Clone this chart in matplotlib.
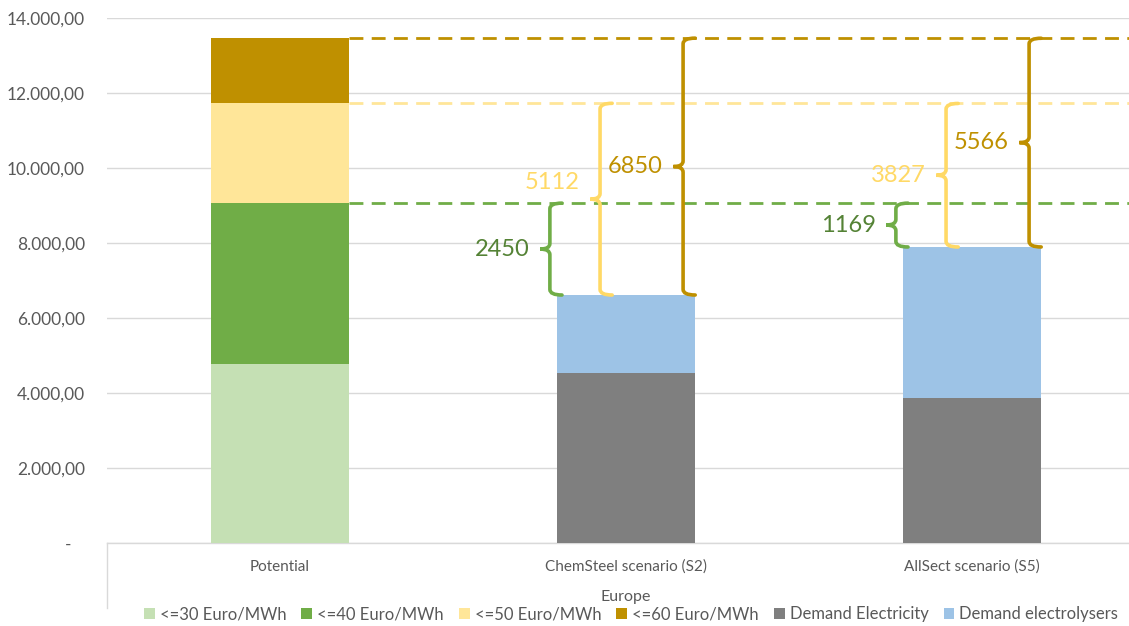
import numpy as np
import matplotlib
matplotlib.use("Agg")
import matplotlib.pyplot as plt
from matplotlib.path import Path
from matplotlib.patches import PathPatch
from matplotlib.ticker import FuncFormatter
import matplotlib.transforms as mtransforms

plt.rcParams["font.family"] = ["Lato", "DejaVu Sans"]

# ── data ────────────────────────────────────────────────────────────────────
categories = ["Potential", "ChemSteel scenario (S2)", "AllSect scenario (S5)"]
group_label = "Europe"

series_names = ["<=30 Euro/MWh", "<=40 Euro/MWh", "<=50 Euro/MWh", "<=60 Euro/MWh",
                "Demand Electricity", "Demand electrolysers"]
le30 = [4773, 0, 0]
le40 = [4290, 0, 0]
le50 = [2662, 0, 0]
le60 = [1738, 0, 0]
demand_electricity = [0, 4533, 3867]
demand_electrolysers = [0, 2080, 4027]

# gap between each scenario's demand and the potential up to a price level
gaps_s2 = [2450, 5112, 6850]
gaps_s5 = [1169, 3827, 5566]

# ── styling ─────────────────────────────────────────────────────────────────
C_LE30 = "#C5E0B4"
C_LE40 = "#70AD47"
C_LE50 = "#FFE699"
C_LE60 = "#BF9000"
C_ELEC = "#7F7F7F"
C_ELY = "#9DC3E6"
C_TEXT = "#595959"
C_GRID = "#D9D9D9"

dash_colors = [C_LE40, "#FFE699", C_LE60]
brace_colors = ["#70AD47", "#FFD966", "#BF9000"]
label_colors = ["#548235", "#FFD966", "#BF9000"]
brace_offsets = [-0.22, -0.075, 0.165]   # brace spine relative to bar centre
label_dy = [[0, 450, 0], [0, 0, 0]]       # vertical nudges for the gap labels

bar_w = 0.4
x = np.arange(len(categories))

fig = plt.figure(figsize=(11.29, 6.26), dpi=100)
ax = fig.add_axes([107 / 1129, 1 - 543 / 626, 1038 / 1129, 525 / 626])

stack = [le30, le40, le50, le60, demand_electricity, demand_electrolysers]
colors = [C_LE30, C_LE40, C_LE50, C_LE60, C_ELEC, C_ELY]
bottom = np.zeros(len(categories))
handles = []
for vals, col, name in zip(stack, colors, series_names):
    vals = np.array(vals, dtype=float)
    b = ax.bar(x, vals, bar_w, bottom=bottom, color=col, label=name, zorder=3)
    handles.append(b)
    bottom += vals

ax.set_xlim(-0.5, len(categories) - 0.5)
ax.set_ylim(0, 14000)
ax.set_yticks(np.arange(0, 14001, 2000))


def euro_fmt(v, pos):
    if v == 0:
        return "-   "
    s = f"{v:,.2f}"
    return s.replace(",", "X").replace(".", ",").replace("X", ".")


ax.yaxis.set_major_formatter(FuncFormatter(euro_fmt))
ax.yaxis.grid(True, color=C_GRID, linewidth=1.0, zorder=0)
ax.set_axisbelow(True)
for side in ["top", "right", "left"]:
    ax.spines[side].set_visible(False)
ax.spines["bottom"].set_color(C_GRID)
ax.spines["bottom"].set_linewidth(1.0)
ax.tick_params(axis="y", length=0, pad=16, labelsize=12.5, labelcolor=C_TEXT)
ax.tick_params(axis="x", length=0, pad=12, labelsize=11, labelcolor=C_TEXT)
ax.set_xticks(x)
ax.set_xticklabels(categories)

# multi-level category divider below the axis
trans = mtransforms.blended_transform_factory(ax.transData, fig.transFigure)
ax.plot([-0.5, -0.5], [1 - 543 / 626, 1 - 608 / 626], color=C_GRID, lw=1.0,
        transform=trans, clip_on=False)
fig.text(ax.get_position().x0 + ax.get_position().width / 2, 1 - 597 / 626,
         group_label, ha="center", va="center", fontsize=11.5, color=C_TEXT)

# dashed reference levels from the potential bar
levels = np.cumsum([le30[0], le40[0], le50[0], le60[0]])[1:]
for lvl, col in zip(levels, dash_colors):
    ax.hlines(lvl, x[0] + bar_w / 2, len(categories) - 0.5, colors=col,
              linestyles=(0, (5, 3)), linewidth=2.0, zorder=4)


def brace(ax, xs, y0, y1, color, label, tcolor, dy=0):
    h, t = 0.035, 0.028
    r = min(150, (y1 - y0) / 5)
    ym = (y0 + y1) / 2
    verts = [(xs + h, y1), (xs, y1), (xs, y1 - r),
             (xs, ym + r),
             (xs, ym), (xs - t, ym),
             (xs, ym), (xs, ym - r),
             (xs, y0 + r),
             (xs, y0), (xs + h, y0)]
    codes = [Path.MOVETO, Path.CURVE3, Path.CURVE3,
             Path.LINETO,
             Path.CURVE3, Path.CURVE3,
             Path.CURVE3, Path.CURVE3,
             Path.LINETO,
             Path.CURVE3, Path.CURVE3]
    ax.add_patch(PathPatch(Path(verts, codes), facecolor="none", edgecolor=color,
                           linewidth=2.6, capstyle="round", zorder=5))
    ax.text(xs - t - 0.03, ym + dy, label, ha="right", va="center",
            fontsize=17, color=tcolor, zorder=6)


totals = np.array(demand_electricity) + np.array(demand_electrolysers)
for i, gaps in zip([1, 2], [gaps_s2, gaps_s5]):
    for j, g in enumerate(gaps):
        brace(ax, x[i] + brace_offsets[j], totals[i], totals[i] + g,
              brace_colors[j], str(g), label_colors[j], label_dy[i - 1][j])

fig.legend(handles=handles, labels=series_names, loc="center",
           bbox_to_anchor=(0.559, 1 - 614 / 626), ncol=6, frameon=False,
           fontsize=12, handlelength=0.65, handleheight=0.65, handletextpad=0.3,
           columnspacing=0.9, labelcolor=C_TEXT, borderpad=0.1)

fig.savefig("out.png", dpi=100, facecolor="white")
